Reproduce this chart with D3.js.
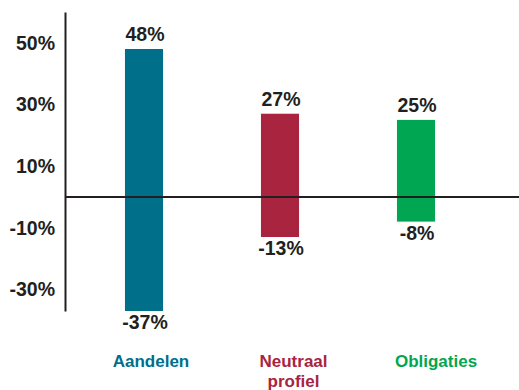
<!DOCTYPE html>
<html>
<head>
<meta charset="utf-8">
<script src="https://cdn.jsdelivr.net/npm/d3@7/dist/d3.min.js"></script>
<style>
  html, body { margin: 0; padding: 0; background: #fff; }
  svg { display: block; }
  text { font-family: "Liberation Sans", Arial, sans-serif; font-weight: bold; }
</style>
</head>
<body>
<svg id="chart" width="519" height="390"></svg>
<script>
// Data
const categories = ["Aandelen", "Neutraal profiel", "Obligaties"];
const labelLines = [["Aandelen"], ["Neutraal", "profiel"], ["Obligaties"]];
const bestYear = [48, 27, 25];
const worstYear = [-37, -13, -8];
const tickValues = [50, 30, 10, -10, -30];
const colors = ["#006f8a", "#a8243f", "#00a651"];

const svg = d3.select("#chart");
const ink = "#231f20";

const x = d3.scaleBand().domain(categories).range([76, 484])
  .paddingInner(0.72).paddingOuter(0.36);
const xLabel = d3.scalePoint().domain(categories).range([151, 436]);
const y = d3.scaleLinear().domain([-37, 60]).range([311, 12]);

// Bars
categories.forEach((c, i) => {
  const top = y(bestYear[i]);
  const bot = y(worstYear[i]);
  svg.append("rect")
    .attr("x", x(c)).attr("width", x.bandwidth())
    .attr("y", top).attr("height", bot - top)
    .attr("fill", colors[i]);
  svg.append("text")
    .attr("x", x(c) + x.bandwidth() / 2 + 1)
    .attr("y", top - 8)
    .attr("text-anchor", "middle")
    .attr("font-size", 19.5)
    .attr("fill", ink)
    .text(bestYear[i] + "%");
  svg.append("text")
    .attr("x", x(c) + x.bandwidth() / 2 + 1)
    .attr("y", bot + 18)
    .attr("text-anchor", "middle")
    .attr("font-size", 19.5)
    .attr("fill", ink)
    .text(worstYear[i] + "%");
  const t = svg.append("text")
    .attr("x", xLabel(c))
    .attr("y", 367)
    .attr("text-anchor", "middle")
    .attr("font-size", 17)
    .attr("fill", colors[i]);
  labelLines[i].forEach((ln, j) => {
    t.append("tspan").attr("x", xLabel(c)).attr("dy", j === 0 ? 0 : 20).text(ln);
  });
});

// Zero line
svg.append("line")
  .attr("x1", 65).attr("x2", 519)
  .attr("y1", y(0)).attr("y2", y(0))
  .attr("stroke", ink).attr("stroke-width", 2);

// Y axis
const axis = svg.append("g")
  .attr("transform", "translate(65,0)")
  .call(d3.axisLeft(y).tickValues(tickValues).tickSize(0).tickSizeOuter(0)
    .tickPadding(10).tickFormat(d => d + "%"));
axis.select(".domain").attr("stroke", ink).attr("stroke-width", 2);
axis.selectAll(".tick text")
  .attr("font-size", 19.5)
  .attr("fill", ink)
  .style("font-family", '"Liberation Sans", Arial, sans-serif')
  .style("font-weight", "bold");
</script>
</body>
</html>
